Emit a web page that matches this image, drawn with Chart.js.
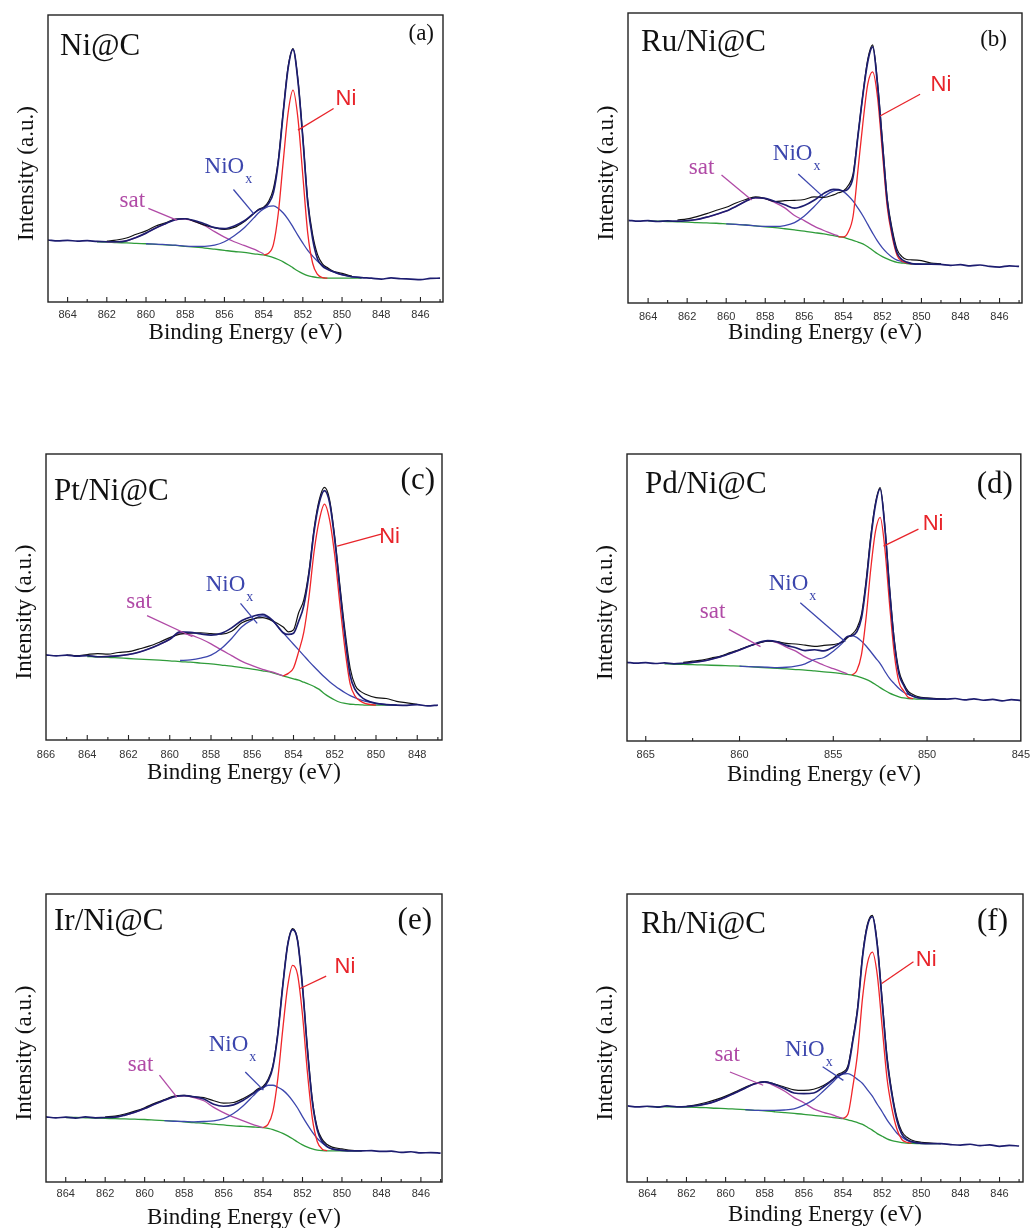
<!DOCTYPE html>
<html>
<head>
<meta charset="utf-8">
<title>Ni 2p XPS spectra</title>
<script src="https://cdn.jsdelivr.net/npm/chart.js@4.4.1/dist/chart.umd.min.js"></script>
<style>
  html, body { margin: 0; padding: 0; background: #fff; overflow: hidden; }
  #wrap { position: relative; width: 1030px; height: 1228px; overflow: hidden; }
  #wrap canvas { position: absolute; }
</style>
</head>
<body>
<div id="wrap"></div>
<script>
const _ = null;

// binding energy grid (eV), finer around the Ni 2p3/2 peak
const energy = [
  866, 865.5, 865, 864.5, 864, 863.5, 863, 862.5, 862, 861.5, 861, 860.5,
  860, 859.5, 859, 858.5, 858, 857.5, 857, 856.5, 856, 855.5, 855, 854.5,
  854.25, 854, 853.75, 853.5, 853.25, 853, 852.75, 852.5, 852.25, 852, 851.75, 851.5, 851.25, 851, 850.75, 850.5,
  850, 849.5, 849, 848.5, 848, 847.5, 847, 846.5, 846, 845.5, 845
];

// (a) Ni@C
const aData = [
  _, _, _, _, _, _, _, _, 21.2, 21.6, 22.3, 23.6,
  24.8, 26.5, 27.6, 28.9, 29.1, 28.0, 26.8, 25.9, 25.3, 26.0, 28.0, 30.8,
  32.3, 33.0, 35.0, 39.5, 49.5, 66.5, 82, 88.3, 77.5, 57.5, 35.5, 23.5, 16.5, 13.3, 12.0, 10.9,
  10.0, 9.0, _, _, _, _, _, _, _, _, _
];
const aFit = [
  _, _, 21.6, 21.3, 21.5, 21.2, 21.4, 21.1, 21.0, 21.0, 21.3, 22.5,
  24.0, 25.8, 27.3, 28.7, 29.0, 28.3, 27.2, 25.9, 25.6, 26.5, 28.2, 30.9,
  32.1, 32.8, 34.3, 38.1, 48.8, 66, 81.5, 88.0, 77, 57, 34.5, 22, 15, 12.5, 11.4, 10.7,
  9.5, 8.8, 8.5, 8.3, 8.0, 8.4, 8.1, 8.0, 7.8, 8.2, 8.3
];
const aBg = [
  _, _, _, _, _, _, _, 21.0, 20.9, 20.7, 20.6, 20.4,
  20.3, 20.1, 19.9, 19.7, 19.4, 19.1, 18.8, 18.4, 18.0, 17.6, 17.3, 16.8,
  16.6, 16.4, 16.0, 15.5, 14.8, 14.0, 13.0, 11.9, 10.8, 9.9, 9.2, 8.8, 8.5, 8.4, 8.3, 8.3,
  8.3, 8.3, 8.3, _, _, _, _, _, _, _, _
];
const aNi = [
  _, _, _, _, _, _, _, _, _, _, _, _,
  _, _, _, _, _, _, _, _, _, _, _, _,
  _, 16.4, 17.0, 20.1, 31, 49, 66, 73.8, 64, 44, 24, 13.5, 9.6, 8.5, 8.3, _,
  _, _, _, _, _, _, _, _, _, _, _
];
const aNiox = [
  _, _, _, _, _, _, _, _, _, _, _, _,
  20.3, 20.2, 20.0, 19.8, 19.5, 19.4, 19.4, 19.8, 21.0, 23.1, 25.8, 29.3,
  31.1, 32.4, 33.3, 33.5, 32.6, 31.0, 28.8, 26.1, 23.2, 20.5, 18.0, 16.0, 14.2, 12.8, 11.6, 10.7,
  9.5, 8.8, 8.5, _, _, _, _, _, _, _, _
];
const aSat = [
  _, _, _, _, _, _, _, _, 20.9, 21.0, 21.3, 22.5,
  24.0, 25.8, 27.3, 28.7, 28.9, 28.0, 26.6, 24.5, 22.6, 21.0, 19.7, 18.4,
  17.6, 16.8, _, _, _, _, _, _, _, _, _, _, _, _, _, _,
  _, _, _, _, _, _, _, _, _, _, _
];

// (b) Ru/Ni@C
const bData = [
  _, _, _, _, _, _, _, 28.6, 29.0, 29.8, 30.8, 32.0,
  33.0, 34.5, 35.7, 36.6, 36.0, 35.0, 35.3, 35.4, 35.7, 36.6, 36.4, 37.3,
  38.0, 38.6, 40.5, 44.5, 58, 72, 84, 89.0, 76, 56, 36, 25.5, 18.5, 16.0, 15.0, 14.9,
  14.6, 13.8, 13.5, _, _, _, _, _, _, _, _
];
const bFit = [
  _, _, 28.5, 28.2, 28.4, 28.1, 28.3, 28.2, 28.4, 28.8, 29.6, 30.6,
  31.7, 33.3, 35.1, 36.3, 36.1, 35.0, 33.9, 32.7, 33.6, 35.4, 37.8, 39.2,
  39.1, 38.6, 39.4, 43.5, 57.7, 71.7, 83.2, 88.3, 75.3, 55, 35, 24.3, 17.3, 15.0, 14.1, 13.6,
  13.4, 13.4, 13.3, 13.0, 13.2, 12.8, 13.1, 12.6, 12.4, 12.8, 12.6
];
const bBg = [
  _, _, _, _, 28.3, 28.2, 28.1, 28.0, 27.9, 27.7, 27.6, 27.5,
  27.3, 27.1, 26.9, 26.6, 26.3, 26.0, 25.6, 25.2, 24.8, 24.3, 23.8, 23.2,
  22.9, 22.6, 22.1, 21.6, 21.0, 20.4, 19.4, 18.2, 17.0, 16.0, 15.2, 14.5, 14.0, 13.8, 13.6, 13.5,
  13.4, 13.4, 13.4, _, _, _, _, _, _, _, _
];
const bNi = [
  _, _, _, _, _, _, _, _, _, _, _, _,
  _, _, _, _, _, _, _, _, _, _, _, _,
  22.8, 22.8, 24.5, 30, 46, 62, 75.5, 79.7, 71, 52, 33, 23, 16.5, 14.5, 13.8, 13.5,
  _, _, _, _, _, _, _, _, _, _, _
];
const bNiox = [
  _, _, _, _, _, _, _, _, _, _, _, _,
  27.3, 27.1, 26.9, 26.6, 26.4, 26.4, 26.7, 27.7, 30.0, 33.2, 36.6, 38.7,
  38.9, 38.4, 37.0, 35.1, 32.7, 30.1, 27.1, 24.1, 21.3, 19.0, 17.2, 15.8, 14.8, 14.3, 13.9, 13.6,
  13.4, _, _, _, _, _, _, _, _, _, _
];
const bSat = [
  _, _, _, _, _, _, _, _, 28.4, 28.8, 29.6, 30.6,
  31.7, 33.3, 35.1, 36.3, 36.0, 34.6, 32.8, 30.2, 28.4, 26.5, 25.0, 23.7,
  23.1, _, _, _, _, _, _, _, _, _, _, _, _, _, _, _,
  _, _, _, _, _, _, _, _, _, _, _
];

// (c) Pt/Ni@C
const cData = [
  _, _, 29.8, 29.5, 29.9, 30.2, 30.0, 30.6, 30.9, 31.8, 32.8, 34.2,
  35.8, 37.0, 37.4, 37.5, 37.2, 37.0, 38.0, 41.0, 42.3, 42.8, 41.6, 39.5,
  37.8, 38.5, 44.5, 49, 59, 74, 84, 88.3, 84, 71, 54, 38, 25, 19.0, 17.0, 16.0,
  14.8, 14.5, 13.5, 13.0, 12.5, _, _, _, _, _, _
];
const cFit = [
  29.8, 29.4, 29.7, 29.3, 29.5, 29.1, 29.2, 29.4, 29.9, 30.7, 31.9, 33.4,
  35.2, 37.8, 37.6, 37.1, 36.7, 37.3, 39.2, 41.8, 43.2, 43.9, 41.7, 37.5,
  36.9, 37.3, 41.5, 47, 58, 73, 83, 87.2, 83, 70, 52.5, 36, 22.5, 17.5, 15.3, 14.0,
  12.8, 12.4, 12.2, 12.1, 12.4, 11.9, 12.2, _, _, _, _
];
const cBg = [
  _, _, _, _, 29.2, 29.0, 28.9, 28.7, 28.5, 28.3, 28.1, 27.9,
  27.7, 27.4, 27.2, 26.9, 26.6, 26.2, 25.8, 25.3, 24.8, 24.2, 23.5, 22.4,
  21.9, 21.4, 20.9, 20.2, 19.5, 18.7, 17.7, 16.2, 15.0, 14.0, 13.2, 12.8, 12.5, 12.4, 12.3, 12.2,
  12.2, 12.2, 12.2, _, _, _, _, _, _, _, _
];
const cNi = [
  _, _, _, _, _, _, _, _, _, _, _, _,
  _, _, _, _, _, _, _, _, _, _, _, 22.4,
  23.3, 25.2, 30.9, 37.7, 50, 66, 76.9, 82.5, 77, 64.5, 47.5, 31.5, 19.5, 15.2, 13.6, 12.7,
  12.2, _, _, _, _, _, _, _, _, _, _
];
const cNiox = [
  _, _, _, _, _, _, _, _, _, _, _, _,
  _, 27.8, 28.0, 28.6, 29.7, 32.0, 35.5, 39.6, 42.0, 43.4, 41.5, 37.5,
  35.5, 33.5, 31.5, 29.5, 27.5, 25.6, 23.8, 22.0, 20.4, 19.0, 17.7, 16.5, 15.5, 14.7, 14.0, 13.5,
  12.8, 12.4, 12.2, _, _, _, _, _, _, _, _
];
const cSat = [
  _, _, _, _, _, 29.1, 29.2, 29.4, 29.9, 30.7, 31.9, 33.4,
  35.2, 37.4, 36.8, 35.4, 33.6, 31.5, 29.5, 27.5, 26.0, 24.7, 23.7, 22.4,
  _, _, _, _, _, _, _, _, _, _, _, _, _, _, _, _,
  _, _, _, _, _, _, _, _, _, _, _
];

// (d) Pd/Ni@C
const dData = [
  _, _, _, _, _, _, 27.4, 27.8, 28.2, 28.9, 29.6, 30.8,
  31.9, 33.1, 34.0, 34.8, 34.6, 34.0, 33.8, 33.4, 33.0, 33.3, 33.6, 34.5,
  36.0, 37.2, 39.2, 44, 56, 71.5, 83, 88.3, 75, 53.5, 35.5, 24.5, 20.0, 17.3, 16.2, 15.5,
  15.0, 14.8, 14.6, _, _, _, _, _, _, _, _
];
const dFit = [
  27.4, 27.1, 27.3, 27.0, 27.2, 26.9, 27.1, 27.4, 27.8, 28.5, 29.4, 30.5,
  31.7, 33.0, 34.3, 35.0, 34.6, 33.3, 32.5, 31.5, 31.8, 31.4, 32.7, 34.8,
  36.4, 36.7, 38.0, 42.7, 54.6, 70.4, 82.3, 87.8, 74.3, 52.8, 34.5, 23.4, 19.5, 16.6, 15.6, 15.1,
  14.8, 14.6, 14.6, 14.8, 14.3, 14.7, 14.2, 14.5, 14.0, 14.4, 14.1
];
const dBg = [
  _, _, _, _, 26.9, 26.8, 26.7, 26.6, 26.5, 26.4, 26.3, 26.2,
  26.1, 25.9, 25.7, 25.5, 25.3, 25.1, 24.9, 24.7, 24.4, 24.1, 23.8, 23.4,
  23.2, 23.0, 22.6, 22.1, 21.5, 20.7, 19.7, 18.6, 17.6, 16.7, 16.0, 15.4, 15.0, 14.8, 14.7, 14.6,
  14.6, 14.6, 14.6, _, _, _, _, _, _, _, _
];
const dNi = [
  _, _, _, _, _, _, _, _, _, _, _, _,
  _, _, _, _, _, _, _, _, _, _, _, _,
  _, 23.0, 24.5, 30, 43, 60, 73, 77.9, 67, 47.7, 30.5, 20.5, 17.5, 15.2, 14.8, _,
  _, _, _, _, _, _, _, _, _, _, _
];
const dNiox = [
  _, _, _, _, _, _, _, _, _, _, _, _,
  26.1, 25.9, 25.8, 25.7, 25.6, 25.7, 26.1, 26.9, 28.4, 29.1, 31.3, 34.2,
  36.2, 36.7, 36.1, 34.8, 33.1, 31.1, 29.0, 27.0, 24.3, 21.8, 20.0, 18.3, 17.0, 16.2, 15.6, 15.1,
  14.8, 14.6, _, _, _, _, _, _, _, _, _
];
const dSat = [
  _, _, _, _, _, _, 27.1, 27.4, 27.8, 28.5, 29.4, 30.5,
  31.7, 33.0, 34.2, 34.8, 34.3, 32.7, 31.3, 29.3, 27.8, 26.4, 25.2, 24.0,
  23.4, _, _, _, _, _, _, _, _, _, _, _, _, _, _, _,
  _, _, _, _, _, _, _, _, _, _, _
];

// (e) Ir/Ni@C
const eData = [
  _, _, _, _, _, _, _, _, 22.6, 22.9, 23.6, 24.6,
  25.8, 27.3, 28.6, 29.8, 30.1, 29.6, 29.3, 28.2, 27.4, 27.6, 29.0, 31.0,
  32.4, 33.2, 35.6, 40.5, 51.8, 68.5, 82.5, 88.0, 84, 68, 46.5, 28.5, 18.8, 14.8, 13.0, 12.1,
  11.5, 11.0, 10.9, _, _, _, _, _, _, _, _
];
const eFit = [
  _, _, 22.6, 22.3, 22.5, 22.2, 22.6, 22.3, 22.4, 22.5, 23.2, 24.2,
  25.5, 27.0, 28.4, 29.6, 30.0, 29.6, 28.8, 27.0, 26.3, 26.8, 28.4, 30.7,
  32.0, 32.7, 35.0, 39.9, 51.3, 68.0, 82.3, 87.6, 83.8, 67.8, 45.8, 27.8, 18.0, 14.0, 12.3, 11.5,
  11.0, 10.8, 10.8, 10.9, 10.6, 10.7, 10.3, 10.5, 10.1, 10.2, 10.0
];
const eBg = [
  _, _, _, _, 22.4, 22.4, 22.3, 22.2, 22.1, 22.0, 21.9, 21.8,
  21.7, 21.5, 21.3, 21.1, 20.9, 20.6, 20.4, 20.1, 19.8, 19.5, 19.3, 19.1,
  19.0, 18.9, 18.6, 18.2, 17.6, 16.9, 16.0, 15.0, 13.9, 12.9, 12.1, 11.5, 11.1, 10.9, 10.8, 10.8,
  10.8, 10.8, 10.8, _, _, _, _, _, _, _, _
];
const eNi = [
  _, _, _, _, _, _, _, _, _, _, _, _,
  _, _, _, _, _, _, _, _, _, _, _, _,
  _, 18.9, 20.0, 24.5, 36, 53, 68, 75.2, 72, 58, 38, 22, 14, 11.4, 10.9, _,
  _, _, _, _, _, _, _, _, _, _, _
];
const eNiox = [
  _, _, _, _, _, _, _, _, _, _, _, _,
  _, _, 21.3, 21.1, 21.0, 20.9, 21.0, 21.2, 22.0, 23.8, 26.5, 29.9,
  31.6, 32.7, 33.6, 33.6, 32.9, 31.9, 30.3, 28.2, 25.7, 22.7, 19.9, 17.3, 15.1, 13.5, 12.2, 11.5,
  11.0, _, _, _, _, _, _, _, _, _, _
];
const eSat = [
  _, _, _, _, _, _, _, _, _, 22.5, 23.2, 24.2,
  25.5, 27.0, 28.4, 29.6, 29.9, 29.3, 28.2, 25.9, 24.1, 22.5, 21.2, 19.9,
  19.4, 18.9, _, _, _, _, _, _, _, _, _, _, _, _, _, _,
  _, _, _, _, _, _, _, _, _, _, _
];

// (f) Rh/Ni@C
const fData = [
  _, _, _, _, _, _, _, _, 26.3, 26.8, 27.6, 28.6,
  29.8, 31.3, 32.9, 34.3, 34.9, 34.0, 33.0, 32.0, 31.8, 32.2, 33.5, 35.8,
  37.4, 38.2, 40.3, 49.5, 60.8, 78.8, 89.5, 92.6, 83, 63.5, 43.8, 31.2, 22.5, 17.6, 15.6, 14.6,
  13.8, 13.5, 13.3, _, _, _, _, _, _, _, _
];
const fFit = [
  _, _, 26.4, 26.1, 26.3, 26.0, 26.4, 26.1, 26.2, 26.5, 27.1, 28.1,
  29.4, 31.0, 32.6, 34.1, 34.8, 33.9, 32.5, 30.9, 30.7, 30.9, 33.0, 35.6,
  36.9, 37.7, 39.5, 48.8, 60.0, 78.2, 89.0, 92.1, 82.2, 62.5, 42.6, 30.3, 21.5, 16.7, 14.8, 14.0,
  13.4, 13.3, 13.3, 13.0, 12.8, 13.1, 12.6, 12.9, 12.4, 12.7, 12.5
];
const fBg = [
  _, _, _, _, 26.2, 26.2, 26.1, 26.1, 26.0, 25.9, 25.8, 25.6,
  25.5, 25.3, 25.1, 24.9, 24.7, 24.4, 24.1, 23.8, 23.5, 23.1, 22.8, 22.4,
  22.2, 22.0, 21.6, 21.1, 20.6, 20.0, 19.0, 18.0, 16.8, 15.9, 15.0, 14.4, 14.0, 13.7, 13.5, 13.4,
  13.3, 13.3, 13.3, _, _, _, _, _, _, _, _
];
const fNi = [
  _, _, _, _, _, _, _, _, _, _, _, _,
  _, _, _, _, _, _, _, _, _, _, _, _,
  _, 22.1, 23.5, 33, 45, 64, 76, 79.8, 72, 54, 36, 25.5, 18.5, 14.8, 13.8, 13.5,
  _, _, _, _, _, _, _, _, _, _, _
];
const fNiox = [
  _, _, _, _, _, _, _, _, _, _, _, _,
  _, _, 25.1, 24.9, 24.9, 24.9, 25.0, 25.4, 26.7, 28.6, 31.6, 34.8,
  36.5, 37.5, 37.6, 36.9, 35.6, 34.2, 32.0, 29.8, 27.0, 24.4, 21.6, 19.2, 17.0, 15.6, 14.5, 13.9,
  13.4, _, _, _, _, _, _, _, _, _, _
];
const fSat = [
  _, _, _, _, _, _, _, _, _, 26.5, 27.1, 28.1,
  29.4, 31.0, 32.6, 34.1, 34.6, 33.4, 31.6, 29.3, 27.5, 25.4, 24.2, 23.2,
  22.6, 22.1, _, _, _, _, _, _, _, _, _, _, _, _, _, _,
  _, _, _, _, _, _, _, _, _, _, _
];

// tick labels
const evenTicks = [864, 862, 860, 858, 856, 854, 852, 850, 848, 846];
const oddTicks = [865, 863, 861, 859, 857, 855, 853, 851, 849, 847, 845];
const cTicks = [866, 864, 862, 860, 858, 856, 854, 852, 850, 848];
const dTicks = [865, 860, 855, 850, 845];
const dMinor = [862.5, 857.5, 852.5, 847.5];

// peak labels: [label x, label y, pointer x1, y1, x2, y2] in (eV, a.u.)
const aNotes = { ni: [849.8, 70.9, 850.43, 67.4, 852.25, 59.9], niox: [856.0, 46.9, 855.54, 39.2, 854.51, 30.8], sat: [860.7, 35.1, 859.88, 32.6, 858.43, 28.5] };
const bNotes = { ni: [849.0, 75.2, 850.07, 72, 852.12, 64.5], niox: [856.6, 51.4, 856.31, 44.5, 855.03, 36.6], sat: [861.26, 46.4, 860.24, 44.1, 858.7, 35.5] };
const cNotes = { ni: [849.34, 71.1, 849.75, 72, 851.88, 67.8], niox: [857.3, 54.2, 856.57, 47.8, 855.76, 40.8], sat: [861.49, 48.4, 861.1, 43.5, 858.9, 36.1] };
const dNotes = { ni: [849.68, 75.8, 850.46, 73.8, 852.32, 67.9], niox: [857.39, 54.7, 856.76, 48.2, 854.36, 34.6], sat: [861.44, 45.1, 860.57, 38.9, 858.88, 32.9] };
const eNotes = { ni: [849.85, 74.7, 850.8, 71.5, 852.12, 67.2], niox: [855.75, 47.5, 854.9, 38.2, 853.98, 31.9], sat: [860.21, 40.6, 859.25, 37.1, 858.37, 29.5] };
const fNotes = { ni: [849.75, 77.1, 850.4, 76.5, 852.02, 68.9], niox: [855.95, 45.8, 855.04, 40, 853.98, 35.3], sat: [859.92, 44.0, 859.78, 38.2, 858.08, 33.6] };

const panels = [
  { name: 'Ni@C', letter: '(a)', series: [aFit, aData, aNi, aNiox, aSat, aBg], notes: aNotes,
    box: [48, 15, 443, 302], range: [844.85, 865.0], ticks: evenTicks, minor: oddTicks,
    tickPad: 6, axisH: 45, nameAt: [12, 40], letterAt: [9, 25], letterSize: 23 },
  { name: 'Ru/Ni@C', letter: '(b)', series: [bFit, bData, bNi, bNiox, bSat, bBg], notes: bNotes,
    box: [628, 13, 1022, 303], range: [844.85, 865.03], ticks: evenTicks, minor: oddTicks,
    tickPad: 7, axisH: 44, nameAt: [13, 38], letterAt: [15, 33], letterSize: 23 },
  { name: 'Pt/Ni@C', letter: '(c)', series: [cFit, cData, cNi, cNiox, cSat, cBg], notes: cNotes,
    box: [46, 454, 442, 740], range: [846.8, 866], ticks: cTicks, minor: oddTicks,
    tickPad: 8, axisH: 47, nameAt: [8, 46], letterAt: [7, 35], letterSize: 31 },
  { name: 'Pd/Ni@C', letter: '(d)', series: [dFit, dData, dNi, dNiox, dSat, dBg], notes: dNotes,
    box: [627, 454, 1023, 741], range: [845, 866], ticks: dTicks, minor: dMinor,
    tickPad: 7, axisH: 48, nameAt: [18, 39], letterAt: [8, 39], letterSize: 31 },
  { name: 'Ir/Ni@C', letter: '(e)', series: [eFit, eData, eNi, eNiox, eSat, eBg], notes: eNotes,
    box: [46, 894, 442, 1182], range: [844.93, 865], ticks: evenTicks, minor: oddTicks,
    tickPad: 5.5, axisH: 50, nameAt: [8, 36], letterAt: [10, 35], letterSize: 31 },
  { name: 'Rh/Ni@C', letter: '(f)', series: [fFit, fData, fNi, fNiox, fSat, fBg], notes: fNotes,
    box: [627, 894, 1023, 1182], range: [844.8, 865.04], ticks: evenTicks, minor: oddTicks,
    tickPad: 5.5, axisH: 47, nameAt: [14, 39], letterAt: [15, 36], letterSize: 31 }
];

panels.forEach(p => p.series.forEach((s, k) => {
  if (s.length !== energy.length) throw new Error(p.letter + ' series ' + k + ' has ' + s.length + ' values');
}));

// fit envelope, raw data, Ni, NiOx, satellite, Shirley background (first = drawn on top)
const lineStyles = [
  { color: '#1d1d70', width: 1.7 },
  { color: '#111111', width: 1.2 },
  { color: '#f0262a', width: 1.3 },
  { color: '#3c46ad', width: 1.3 },
  { color: '#b04aa6', width: 1.3 },
  { color: '#2f9c3a', width: 1.3 }
];

const SERIF = 'Liberation Serif';
const SANS = 'Liberation Sans';

function toPoints(values) {
  const pts = [];
  values.forEach((v, i) => { if (v !== null) pts.push({ x: energy[i], y: v }); });
  return pts;
}

function decorations(p) {
  return {
    id: 'decorations',
    afterDraw(chart) {
      const { ctx, chartArea: ca, scales: { x, y } } = chart;
      ctx.save();

      // frame
      ctx.strokeStyle = '#222';
      ctx.lineWidth = 1.4;
      ctx.strokeRect(ca.left, ca.top, ca.right - ca.left, ca.bottom - ca.top);

      // inward ticks on the bottom axis
      const tick = (v, len) => {
        const px = x.getPixelForValue(v);
        if (px < ca.left + 1 || px > ca.right - 1) return;
        ctx.beginPath();
        ctx.moveTo(px, ca.bottom);
        ctx.lineTo(px, ca.bottom - len);
        ctx.stroke();
      };
      ctx.lineWidth = 1.1;
      p.ticks.forEach(v => tick(v, 5));
      p.minor.forEach(v => tick(v, 3));

      // y title
      ctx.save();
      ctx.translate(ca.left - 21, (ca.top + ca.bottom) / 2 + 15);
      ctx.rotate(-Math.PI / 2);
      ctx.fillStyle = '#111';
      ctx.font = '23px "' + SERIF + '"';
      ctx.textAlign = 'center';
      ctx.textBaseline = 'middle';
      ctx.fillText('Intensity (a.u.)', 0, 0);
      ctx.restore();

      // sample name and panel letter
      ctx.fillStyle = '#111';
      ctx.textBaseline = 'alphabetic';
      ctx.font = '31px "' + SERIF + '"';
      ctx.textAlign = 'left';
      ctx.fillText(p.name, ca.left + p.nameAt[0], ca.top + p.nameAt[1]);
      ctx.font = p.letterSize + 'px "' + SERIF + '"';
      ctx.textAlign = 'right';
      ctx.fillText(p.letter, ca.right - p.letterAt[0], ca.top + p.letterAt[1]);

      // peak labels with pointer lines
      const note = (n, text, color, font) => {
        ctx.strokeStyle = color;
        ctx.lineWidth = 1.3;
        ctx.beginPath();
        ctx.moveTo(x.getPixelForValue(n[2]), y.getPixelForValue(n[3]));
        ctx.lineTo(x.getPixelForValue(n[4]), y.getPixelForValue(n[5]));
        ctx.stroke();
        ctx.fillStyle = color;
        ctx.font = font;
        ctx.textAlign = 'center';
        ctx.textBaseline = 'middle';
        const lx = x.getPixelForValue(n[0]);
        const ly = y.getPixelForValue(n[1]);
        ctx.fillText(text, lx, ly);
        return { lx, ly, w: ctx.measureText(text).width };
      };
      note(p.notes.ni, 'Ni', '#e8242a', '22px "' + SANS + '"');
      note(p.notes.sat, 'sat', '#b04aa6', '23px "' + SERIF + '"');
      const o = note(p.notes.niox, 'NiO', '#3c46ad', '23px "' + SERIF + '"');
      ctx.font = '14px "' + SERIF + '"';
      ctx.textAlign = 'left';
      ctx.fillText('x', o.lx + o.w / 2 + 1, o.ly + 12);

      ctx.restore();
    }
  };
}

const wrap = document.getElementById('wrap');
const padL = 50, padT = 12, padR = 14, padB = 4;

panels.forEach(p => {
  const [l, t, r, b] = p.box;
  const canvas = document.createElement('canvas');
  canvas.width = r - l + padL + padR;
  canvas.height = b - t + padT + p.axisH + padB;
  canvas.style.left = (l - padL) + 'px';
  canvas.style.top = (t - padT) + 'px';
  wrap.appendChild(canvas);

  new Chart(canvas, {
    type: 'line',
    data: {
      datasets: p.series.map((s, k) => ({
        data: toPoints(s),
        borderColor: lineStyles[k].color,
        borderWidth: lineStyles[k].width,
        pointRadius: 0,
        fill: false,
        cubicInterpolationMode: 'monotone'
      }))
    },
    options: {
      responsive: false,
      animation: false,
      devicePixelRatio: 1,
      layout: { padding: { left: padL, top: padT, right: padR, bottom: padB } },
      plugins: { legend: { display: false }, tooltip: { enabled: false } },
      scales: {
        x: {
          type: 'linear',
          reverse: true,
          min: p.range[0],
          max: p.range[1],
          afterBuildTicks: s => { s.ticks = p.ticks.map(v => ({ value: v })); },
          afterFit: s => { s.height = p.axisH; },
          grid: { display: false, drawTicks: false },
          border: { display: false },
          ticks: {
            autoSkip: false,
            maxRotation: 0,
            padding: p.tickPad,
            color: '#333',
            font: { family: SANS, size: 11 },
            callback: v => String(v)
          },
          title: {
            display: true,
            text: 'Binding Energy (eV)',
            color: '#111',
            font: { family: SERIF, size: 23 },
            padding: { top: 0, bottom: 0 }
          }
        },
        y: { display: false, min: 0, max: 100 }
      }
    },
    plugins: [decorations(p)]
  });
});
</script>
</body>
</html>
